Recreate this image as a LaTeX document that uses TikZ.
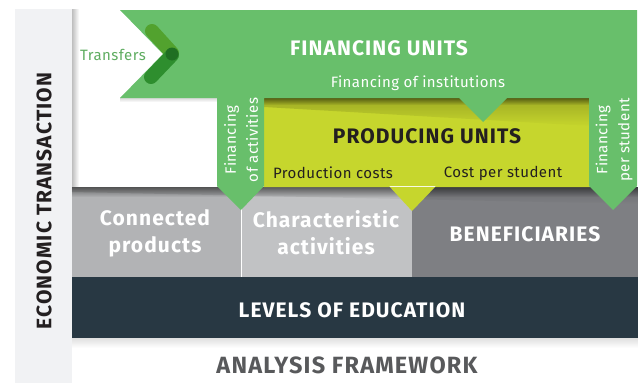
\documentclass[tikz,border=0pt]{standalone}
\usepackage{fontspec}
\setmainfont{Fira Sans}
\usetikzlibrary{fadings}

\definecolor{fingreen}{HTML}{68BF6B}
\definecolor{prodyellow}{HTML}{C6D62D}
\definecolor{sidegrey}{HTML}{F1F2F4}
\definecolor{conngrey}{HTML}{B2B3B5}
\definecolor{chargrey}{HTML}{C1C2C4}
\definecolor{benegrey}{HTML}{7E7F83}
\definecolor{levelblue}{HTML}{283843}
\definecolor{inkdark}{HTML}{231F20}
\definecolor{inkgrey}{HTML}{58595B}
\definecolor{chevlight}{HTML}{52A22E}
\definecolor{chevdark}{HTML}{2E8E2E}
\definecolor{chevdeep}{HTML}{1F6F22}

\begin{document}
\begin{tikzpicture}
  [x=1pt, y=-1pt,
   every node/.style={inner sep=0pt, align=center},
   big/.style={font=\addfontfeature{LetterSpace=5}\bfseries\fontsize{21}{27}\selectfont},
   huge/.style={font=\addfontfeature{LetterSpace=5}\bfseries\fontsize{23.5}{27}\selectfont},
   small/.style={font=\addfontfeature{LetterSpace=3}\fontsize{15}{22}\selectfont},
   tabtext/.style={small, text=white, rotate=90},
   shadowband/.style={black, path fading=south}]
  \useasboundingbox (0,0) rectangle (638,383);
  % left side bar
  \fill[sidegrey] (15,9) rectangle (72,383);
  \fill[shadowband, fill opacity=0.25, path fading=east] (72,9) rectangle (79,187);
  % lower rows
  \fill[conngrey] (72,187) rectangle (241,277);
  \fill[chargrey] (241,187) rectangle (412,277);
  \fill[benegrey] (412,187) rectangle (638,277);
  \draw[white, line width=0.8] (241,187) -- (241,277);
  \fill[shadowband, fill opacity=0.45] (72,187) rectangle (638,197);
  \fill[shadowband, fill opacity=0.15] (72,187) -- (638,187) -- (638,204) -- (72,192) -- cycle;
  \fill[levelblue] (72,277) rectangle (638,338);
  \fill[shadowband, fill opacity=0.12] (72,338) rectangle (638,348);
  % producing units
  \fill[prodyellow] (264,98) rectangle (590,187)
    (389,186) -- (436,186) -- (412,211) -- cycle;
  \fill[shadowband, fill opacity=0.45] (264,98) rectangle (590,105);
  \fill[shadowband, fill opacity=0.2] (264,98) -- (590,98) -- (590,126) -- (264,107) -- cycle;
  \fill[shadowband, fill opacity=0.15] (120,98) rectangle (217,102);
  % financing units
  \fill[fingreen] (120,10) -- (637,10) -- (637,186) -- (613,210) -- (589,186)
    -- (589,98) -- (507,98) -- (483,122) -- (459,98) -- (264,98)
    -- (264,186) -- (241,210) -- (217,186) -- (217,98) -- (120,98)
    -- (163,54) -- cycle;
  % chevron
  \draw[chevlight, line width=14, line cap=round] (152,31) -- (172,53);
  \draw[chevdark, line width=14, line cap=round] (172,55) -- (151,77);
  \fill[chevdeep] (172,54) circle (6.5);

  % texts
  \node[small, text=fingreen!90!black] (transfers) at (113,55) {Transfers};
  \node[big, text=white] (finunits) at (379,48) {FINANCING UNITS};
  \node[small, text=white] (institutions) at (418,83) {Financing of institutions};
  \node[big, text=inkdark] (produnits) at (427,136) {PRODUCING UNITS};
  \node[small, text=inkdark] (prodcosts) at (333,173) {Production costs};
  \node[small, text=inkdark] (costpupil) at (503,173) {Cost per student};
  \node[tabtext] (finact) at (241,140) {Financing\\of activities};
  \node[tabtext] (finstudent) at (614,140) {Financing\\per student};
  \node[big, text=white] (connected) at (155,233) {Connected\\products};
  \node[big, text=white] (characteristic) at (326,233) {Characteristic\\activities};
  \node[big, text=white] (beneficiaries) at (525,234) {BENEFICIARIES};
  \node[big, text=white] (levels) at (352,310) {LEVELS OF EDUCATION};
  \node[huge, text=inkgrey] (framework) at (347,365) {ANALYSIS FRAMEWORK};
  \node[big, text=inkdark, rotate=90] (transaction) at (44,201) {ECONOMIC TRANSACTION};
\end{tikzpicture}
\end{document}
